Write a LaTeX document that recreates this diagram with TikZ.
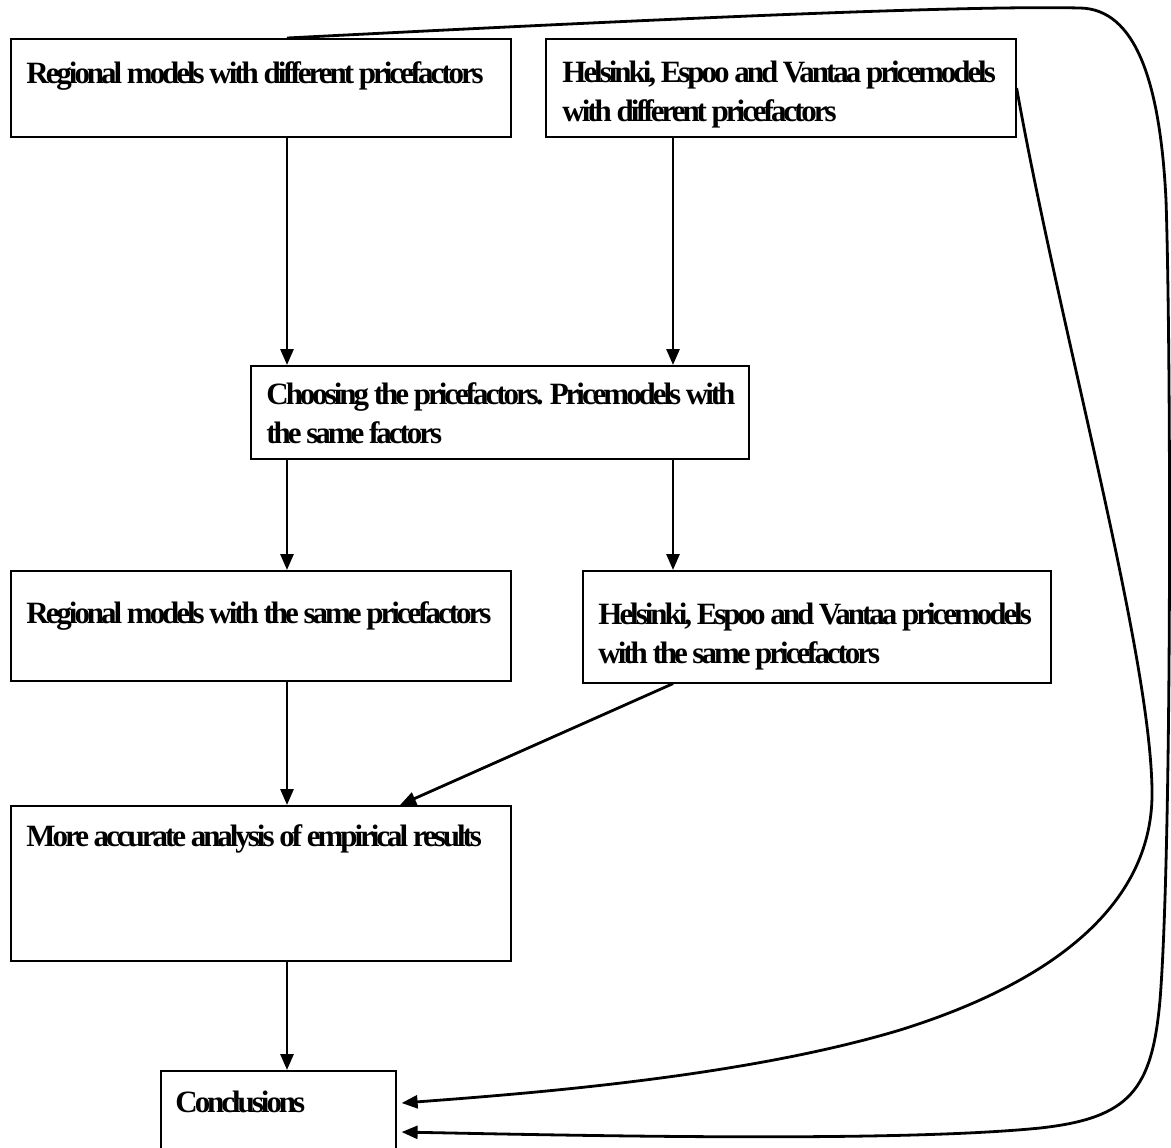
\documentclass[tikz,border=0pt]{standalone}
\usepackage{fontspec}
\setmainfont{Liberation Serif}[LetterSpace=-9.8]
\usetikzlibrary{arrows.meta,calc}
\begin{document}
\begin{tikzpicture}[x=0.5pt,y=-0.5pt,
  box/.style={draw=black, line width=0.8pt, anchor=north west, inner sep=0pt},
  lbl/.style={anchor=base west, inner sep=0pt, align=left, font=\fontsize{15.5}{19.5}\selectfont\bfseries},
  conn/.style={line width=1.4pt, -{Triangle[length=8pt,width=6.5pt]}},
  curv/.style={line width=1.4pt, -{Triangle[length=8pt,width=6.5pt]}}]
\useasboundingbox (0,0) rectangle (1171,1147);
% boxes
\node[box, minimum width=250pt, minimum height=49pt] (A) at (10,38) {};
\node[box, minimum width=235pt, minimum height=49pt] (B) at (545,38) {};
\node[box, minimum width=249pt, minimum height=46.5pt] (C) at (250,365) {};
\node[box, minimum width=250pt, minimum height=55pt] (D) at (10,570) {};
\node[box, minimum width=234pt, minimum height=56pt] (E) at (582,570) {};
\node[box, minimum width=250pt, minimum height=77.5pt] (F) at (10,805) {};
\node[box, minimum width=117.5pt, minimum height=45pt] (G) at (160,1070) {};
% texts (base = baseline of the last line)
\node[lbl] (tA) at (26,83) {Regional models with different pricefactors};
\node[lbl] (tB) at (562,121) {Helsinki, Espoo and Vantaa pricemodels\\with different pricefactors};
\node[lbl] (tC) at (266,443) {Choosing the pricefactors. Pricemodels with\\the same factors};
\node[lbl] (tD) at (26,623) {Regional models with the same pricefactors};
\node[lbl] (tE) at (598,663) {Helsinki, Espoo and Vantaa pricemodels\\with the same pricefactors};
\node[lbl] (tF) at (26,846) {More accurate analysis of empirical results};
\node[lbl] (tG) at (175,1112) {Conclusions};
% connector points
\coordinate (As) at ($(A.south west)+(277,0)$);
\coordinate (An) at ($(A.north west)+(277,0)$);
\coordinate (Bs) at ($(B.south west)+(128,0)$);
\coordinate (Be) at ($(B.north east)+(0,50)$);
\coordinate (Cn1) at ($(C.north west)+(37,0)$);
\coordinate (Cn2) at ($(C.north west)+(423,0)$);
\coordinate (Cs1) at ($(C.south west)+(37,0)$);
\coordinate (Cs2) at ($(C.south west)+(423,0)$);
\coordinate (Dn) at ($(D.north west)+(277,0)$);
\coordinate (Ds) at ($(D.south west)+(277,0)$);
\coordinate (En) at ($(E.north west)+(91,0)$);
\coordinate (Es) at ($(E.south west)+(91,0)$);
\coordinate (Fn) at ($(F.north west)+(277,0)$);
\coordinate (Fa) at ($(F.north west)+(390,0)$);
\coordinate (Fs) at ($(F.south west)+(277,0)$);
\coordinate (Gn) at ($(G.north west)+(127,0)$);
\coordinate (G1) at ($(G.north east)+(5,33)$);
\coordinate (G2) at ($(G.north east)+(5,62)$);
% straight arrows
\draw[conn] (As) -- (Cn1);
\draw[conn] (Bs) -- (Cn2);
\draw[conn] (Cs1) -- (Dn);
\draw[conn] (Cs2) -- (En);
\draw[conn] (Ds) -- (Fn);
\draw[conn] (Es) -- (Fa);
\draw[conn] (Fs) -- (Gn);
% curves
\draw[curv] (An) .. controls (600,22) and (950,5) .. (1080,8)
  .. controls (1135,9) and (1160,80) .. (1166,200)
  .. controls (1171,350) and (1172,850) .. (1160,1000)
  .. controls (1152,1090) and (1130,1118) .. (1040,1128)
  .. controls (900,1142) and (600,1136) .. (G2);
\draw[curv] (Be) .. controls (1060,330) and (1150,650) .. (1152,790)
  .. controls (1154,900) and (1060,980) .. (900,1030)
  .. controls (750,1075) and (550,1092) .. (G1);
\end{tikzpicture}
\end{document}
